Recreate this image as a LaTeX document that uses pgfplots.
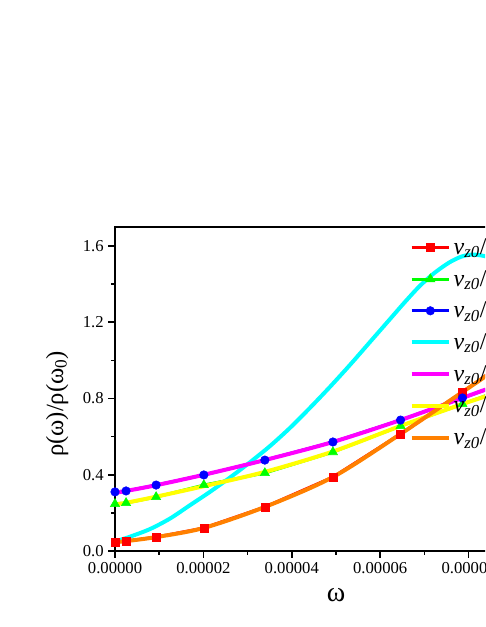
\documentclass[border=0pt]{standalone}
\usepackage{fontspec}
\setmainfont{Liberation Serif}
\usepackage{pgfplots}
\pgfplotsset{compat=1.18}
\definecolor{cRed}{RGB}{255,0,0}
\definecolor{cGreen}{RGB}{0,255,0}
\definecolor{cBlue}{RGB}{0,0,255}
\definecolor{cCyan}{RGB}{0,255,255}
\definecolor{cMagenta}{RGB}{255,0,255}
\definecolor{cYellow}{RGB}{255,255,0}
\definecolor{cOrange}{RGB}{255,128,0}
\newcommand{\vv}[1]{\textit{v}\textsubscript{\textit{z0}}/\textit{v}\textsubscript{\textit{th}}=#1}

\begin{document}
\begin{tikzpicture}
\useasboundingbox (0pt,0pt) rectangle (363.75pt,470.25pt);
\clip (0pt,0pt) rectangle (363.75pt,470.25pt);
\begin{axis}[
  at={(86.25pt,57pt)}, anchor=south west,
  scale only axis, width=331.5pt, height=243pt,
  xmin=0, xmax=1e-4, ymin=0, ymax=1.7,
  axis line style={line width=1.5pt},
  every tick/.style={black, line width=1.2pt},
  major tick length=5pt, minor tick length=3pt,
  tick align=outside,
  xtick pos=bottom, ytick pos=left,
  xtick={0,2e-5,4e-5,6e-5,8e-5,1e-4},
  ytick={0,0.4,0.8,1.2,1.6},
  minor x tick num=1, minor y tick num=1,
  scaled x ticks=false,
  x tick label style={/pgf/number format/.cd, fixed, fixed zerofill, precision=5},
  y tick label style={/pgf/number format/.cd, fixed, fixed zerofill, precision=1},
  /pgf/number format/assume math mode=true,
  tick label style={font=\fontsize{12.5}{14}\selectfont},
  xlabel={ω},
  ylabel={ρ(ω)/ρ(ω\textsubscript{0})},
  xlabel style={font=\fontsize{21}{24}\selectfont, at={(axis description cs:0.5,-0.136)}, anchor=center},
  ylabel style={font=\fontsize{18.5}{22}\selectfont, at={(axis description cs:-0.131,0.454)}, anchor=center},
  legend style={at={(0.657,0.982)}, anchor=north west, draw=none, fill=none,
    font=\fontsize{18}{21}\selectfont, row sep=6.3pt},
  legend cell align=left,
  legend image code/.code={\draw[mark repeat=2,mark phase=2] plot coordinates {(0pt,0pt) (14pt,0pt) (28pt,0pt)};},
]
% data points with symbols
\addplot[cRed, line width=2.2pt, mark=square*, mark size=3pt, mark options={line width=0.4pt}] coordinates {
 (0,0.047) (2.5e-6,0.052) (9.3e-6,0.073) (2.01e-5,0.121) (3.39e-5,0.231)
 (4.93e-5,0.388) (6.46e-5,0.614) (7.86e-5,0.834) (9.3e-5,1.07)
};
\addlegendentry{\vv{0.1}}
\addplot[cGreen, line width=2.2pt, mark=triangle*, mark size=4pt, mark options={line width=0.4pt}] coordinates {
 (0,0.247) (2.5e-6,0.252) (9.3e-6,0.283) (2.01e-5,0.346) (3.39e-5,0.409)
 (4.93e-5,0.519) (6.46e-5,0.656) (7.86e-5,0.771) (9.3e-5,0.89)
};
\addlegendentry{\vv{0.2}}
\addplot[cBlue, line width=2.2pt, mark=*, mark size=3.2pt, mark options={line width=0.4pt}] coordinates {
 (0,0.31) (2.5e-6,0.315) (9.3e-6,0.346) (2.01e-5,0.399) (3.39e-5,0.477)
 (4.93e-5,0.572) (6.46e-5,0.687) (7.86e-5,0.803) (9.3e-5,0.92)
};
\addlegendentry{\vv{0.3}}
% fitted curves
\addplot[cCyan, line width=3pt, smooth] coordinates {
 (0,0.05) (3.39e-6,0.075) (7.91e-6,0.115) (1.243e-5,0.17) (1.695e-5,0.24)
 (2.147e-5,0.31) (2.599e-5,0.385) (3.051e-5,0.465) (3.503e-5,0.55)
 (3.955e-5,0.645) (4.407e-5,0.75) (4.859e-5,0.86) (5.311e-5,0.975)
 (5.763e-5,1.095) (6.215e-5,1.215) (6.554e-5,1.305) (6.893e-5,1.39)
 (7.232e-5,1.46) (7.571e-5,1.515) (7.842e-5,1.545) (8.068e-5,1.555)
 (8.249e-5,1.552) (8.475e-5,1.54) (8.814e-5,1.505) (9.266e-5,1.44)
};
\addlegendentry{\vv{0.4}}
\addplot[cMagenta, line width=3pt, smooth] coordinates {
 (0,0.305) (2.5e-6,0.315) (9.3e-6,0.345) (2.01e-5,0.40) (3.39e-5,0.477)
 (4.93e-5,0.572) (6.46e-5,0.687) (7.86e-5,0.803) (8.36e-5,0.845) (9.3e-5,0.92)
};
\addlegendentry{\vv{0.5}}
\addplot[cYellow, line width=3pt, smooth] coordinates {
 (0,0.245) (2.5e-6,0.253) (9.3e-6,0.285) (2.01e-5,0.34) (3.39e-5,0.415)
 (4.93e-5,0.522) (6.46e-5,0.656) (7.86e-5,0.771) (8.36e-5,0.81) (9.3e-5,0.89)
};
\addlegendentry{\vv{0.6}}
\addplot[cOrange, line width=3pt, smooth] coordinates {
 (0,0.047) (2.5e-6,0.052) (9.3e-6,0.073) (2.01e-5,0.121) (3.39e-5,0.231)
 (4.93e-5,0.388) (6.46e-5,0.614) (7.86e-5,0.834) (8.36e-5,0.913) (9.3e-5,1.07)
};
\addlegendentry{\vv{0.7}}
\end{axis}
\end{tikzpicture}
\end{document}
